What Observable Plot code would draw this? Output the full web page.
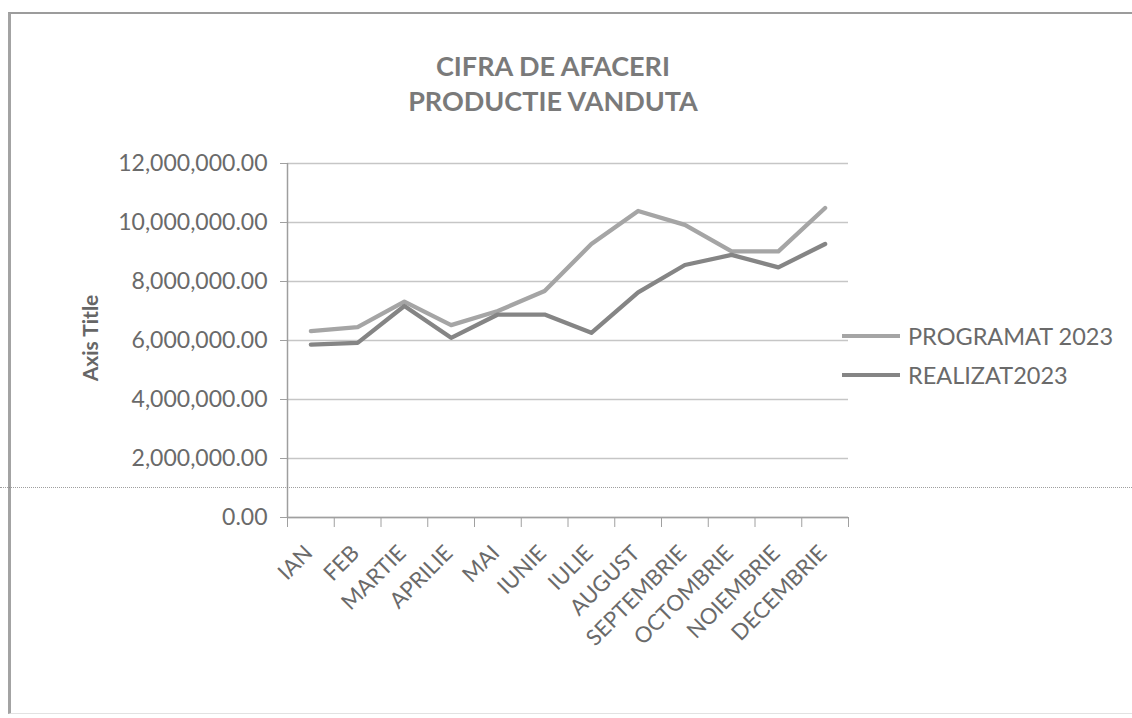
<!DOCTYPE html>
<html>
<head>
<meta charset="utf-8">
<script src="https://cdn.jsdelivr.net/npm/d3@7"></script>
<script src="https://cdn.jsdelivr.net/npm/@observablehq/plot@0.6"></script>
<style>
  html, body { margin: 0; padding: 0; background: #fff; }
  #wrap { position: relative; width: 1132px; height: 718px; overflow: hidden; font-family: Lato, "Open Sans", sans-serif; }
  #frame { position: absolute; left: 8px; top: 12px; width: 1200px; height: 702px;
           border-top: 2px solid #9c9c9c; border-left: 3px solid #a3a3a3; border-bottom: 1px solid #e2e2e2; box-sizing: border-box; }
  #title { position: absolute; left: 303px; width: 500px; top: 48px; text-align: center;
           font-weight: bold; font-size: 27px; line-height: 35px; color: #7a7a7a; }
  #ytitle { position: absolute; left: 89px; top: 338px; transform: translate(-50%, -50%) rotate(-90deg);
            font-weight: bold; font-size: 21px; color: #666; white-space: nowrap; }
  #chart { position: absolute; left: 0; top: 0; }
  .leg { position: absolute; left: 842px; height: 30px; display: flex; align-items: center;
         font-size: 23.5px; color: #6a6a6a; white-space: nowrap; }
  .leg svg { margin-right: 8px; }
  #scan { position: absolute; left: 0; top: 487px; width: 1132px; border-top: 1.5px dotted #808080; opacity: 0.75; }
</style>
</head>
<body>
<div id="wrap">
  <div id="frame"></div>
  <div id="chart"></div>
  <div id="scan"></div>
  <div id="title"></div>
  <div id="ytitle"></div>
  <div id="legend"></div>
</div>
<script>
const titleLines = ["CIFRA DE AFACERI", "PRODUCTIE VANDUTA"];
const yAxisTitle = "Axis Title";
const months = ["IAN", "FEB", "MARTIE", "APRILIE", "MAI", "IUNIE", "IULIE", "AUGUST", "SEPTEMBRIE", "OCTOMBRIE", "NOIEMBRIE", "DECEMBRIE"];
const seriesNames = ["PROGRAMAT 2023", "REALIZAT2023"];
const seriesColors = ["#a5a5a5", "#858585"];
const programat = [6320000, 6450000, 7320000, 6520000, 7000000, 7680000, 9270000, 10390000, 9920000, 9020000, 9020000, 10490000];
const realizat  = [5860000, 5920000, 7170000, 6090000, 6880000, 6880000, 6260000, 7630000, 8560000, 8900000, 8480000, 9270000];
const yTicks = [0, 2000000, 4000000, 6000000, 8000000, 10000000, 12000000];

const data = [];
months.forEach((m, i) => {
  data.push({i, month: m, series: seriesNames[0], value: programat[i]});
});
months.forEach((m, i) => {
  data.push({i, month: m, series: seriesNames[1], value: realizat[i]});
});

const boundaries = d3.range(months.length + 1).map(k => k - 0.5);
const centers = d3.range(months.length);
const yMax = d3.max(yTicks);

const chart = Plot.plot({
  width: 1132,
  height: 718,
  marginLeft: 287,
  marginRight: 284,
  marginTop: 163,
  marginBottom: 201,
  style: {background: "transparent", fontFamily: "Lato, 'Open Sans', sans-serif", overflow: "visible"},
  x: {type: "linear", domain: [-0.5, months.length - 0.5]},
  y: {domain: [0, yMax]},
  color: {domain: seriesNames, range: seriesColors},
  marks: [
    Plot.gridY(yTicks, {stroke: "#c6c6c6", strokeOpacity: 1, strokeWidth: 1.3}),
    Plot.axisY(yTicks, {tickSize: 7, tickPadding: 13, tickFormat: d3.format(",.2f"), fontSize: 23,
                        fill: "#6a6a6a", stroke: "#a0a0a0", label: null}),
    Plot.ruleX([-0.5], {y1: 0, y2: yMax, stroke: "#9e9e9e", strokeWidth: 1.5}),
    Plot.ruleY([0], {stroke: "#a0a0a0", strokeWidth: 1.5}),
    Plot.axisX(boundaries, {tickSize: 10, tickFormat: () => "", stroke: "#a0a0a0", label: null}),
    Plot.axisX(centers, {tickSize: 0, tickPadding: 32, tickRotate: -45, tickFormat: i => months[i],
                         fontSize: 22, fill: "#6a6a6a", dx: -2, label: null}),
    Plot.line(data, {x: "i", y: "value", stroke: "series", z: "series", strokeWidth: 4.3,
                     strokeLinejoin: "round", strokeLinecap: "round"})
  ]
});
document.getElementById("chart").appendChild(chart);

document.getElementById("title").innerHTML = titleLines.join("<br>");
document.getElementById("ytitle").textContent = yAxisTitle;

const legend = document.getElementById("legend");
const legendTops = [321, 360];
seriesNames.forEach((name, k) => {
  const row = document.createElement("div");
  row.className = "leg";
  row.style.top = legendTops[k] + "px";
  row.innerHTML = `<svg width="58" height="8"><line x1="0" x2="58" y1="4" y2="4" stroke="${seriesColors[k]}" stroke-width="4"/></svg><span>${name}</span>`;
  legend.appendChild(row);
});
</script>
</body>
</html>
